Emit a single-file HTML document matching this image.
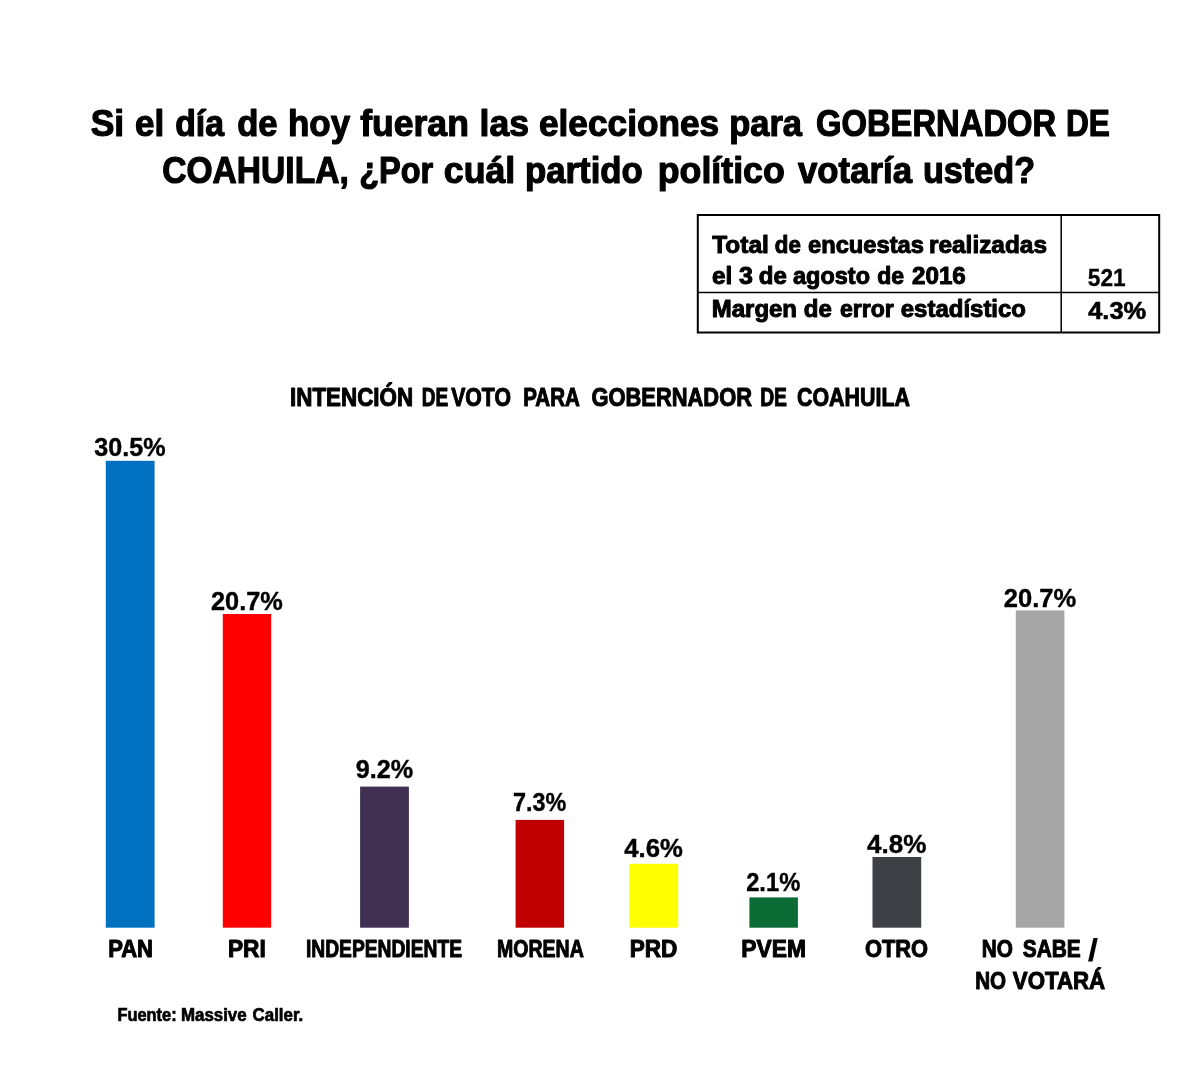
<!DOCTYPE html>
<html lang="es">
<head>
<meta charset="utf-8">
<title>Intención de voto para Gobernador de Coahuila</title>
<style>
html,body{margin:0;padding:0;background:#fff;}
body{width:1200px;height:1071px;overflow:hidden;}
svg{display:block;}
text{font-family:"Liberation Sans",sans-serif;fill:#000;}
</style>
</head>
<body>
<svg width="1200" height="1071" viewBox="0 0 1200 1071">
<rect x="0" y="0" width="1200" height="1071" fill="#ffffff"/>
<g fill="none" stroke="#000">
<rect x="697.8" y="215" width="461.4" height="117.5" stroke-width="2"/>
<line x1="697.8" y1="292.5" x2="1159.2" y2="292.5" stroke-width="1.7"/>
<line x1="1061.2" y1="215" x2="1061.2" y2="332.5" stroke-width="1.5"/>
</g>
<rect x="105.8" y="460.8" width="48.8" height="466.9" fill="#0070C0"/>
<rect x="222.8" y="614" width="48.4" height="313.7" fill="#FF0000"/>
<rect x="360.1" y="786.6" width="48.8" height="141.1" fill="#403152"/>
<rect x="515.6" y="819.9" width="48.5" height="107.8" fill="#C00000"/>
<rect x="629.3" y="863.8" width="48.9" height="63.9" fill="#FFFF00"/>
<rect x="749.4" y="897.4" width="48.5" height="30.3" fill="#0B6B35"/>
<rect x="872.5" y="857" width="48.7" height="70.7" fill="#3F3F46"/>
<rect x="1015.8" y="610.4" width="48.6" height="317.3" fill="#A6A6A6"/>
<text x="90.76" y="136" font-size="37.5" font-weight="700" textLength="33.45" lengthAdjust="spacingAndGlyphs" stroke="#000" stroke-width="1.2" stroke-linejoin="round">Si</text>
<text x="135.04" y="136" font-size="37.5" font-weight="700" textLength="29.18" lengthAdjust="spacingAndGlyphs" stroke="#000" stroke-width="1.2" stroke-linejoin="round">el</text>
<text x="175.20" y="136" font-size="37.5" font-weight="700" textLength="48.81" lengthAdjust="spacingAndGlyphs" stroke="#000" stroke-width="1.2" stroke-linejoin="round">día</text>
<text x="237.16" y="136" font-size="37.5" font-weight="700" textLength="40.49" lengthAdjust="spacingAndGlyphs" stroke="#000" stroke-width="1.2" stroke-linejoin="round">de</text>
<text x="287.95" y="136" font-size="37.5" font-weight="700" textLength="62.24" lengthAdjust="spacingAndGlyphs" stroke="#000" stroke-width="1.2" stroke-linejoin="round">hoy</text>
<text x="360.19" y="136" font-size="37.5" font-weight="700" textLength="108.66" lengthAdjust="spacingAndGlyphs" stroke="#000" stroke-width="1.2" stroke-linejoin="round">fueran</text>
<text x="479.62" y="136" font-size="37.5" font-weight="700" textLength="49.43" lengthAdjust="spacingAndGlyphs" stroke="#000" stroke-width="1.2" stroke-linejoin="round">las</text>
<text x="538.99" y="136" font-size="37.5" font-weight="700" textLength="180.23" lengthAdjust="spacingAndGlyphs" stroke="#000" stroke-width="1.2" stroke-linejoin="round">elecciones</text>
<text x="729.18" y="136" font-size="37.5" font-weight="700" textLength="72.82" lengthAdjust="spacingAndGlyphs" stroke="#000" stroke-width="1.2" stroke-linejoin="round">para</text>
<text x="815.99" y="136" font-size="37.5" font-weight="700" textLength="240.21" lengthAdjust="spacingAndGlyphs" stroke="#000" stroke-width="1.2" stroke-linejoin="round">GOBERNADOR</text>
<text x="1065.91" y="136" font-size="37.5" font-weight="700" textLength="43.90" lengthAdjust="spacingAndGlyphs" stroke="#000" stroke-width="1.2" stroke-linejoin="round">DE</text>
<text x="162.18" y="183.3" font-size="37.5" font-weight="700" textLength="186.65" lengthAdjust="spacingAndGlyphs" stroke="#000" stroke-width="1.2" stroke-linejoin="round">COAHUILA,</text>
<text x="359.17" y="183.3" font-size="37.5" font-weight="700" textLength="74.04" lengthAdjust="spacingAndGlyphs" stroke="#000" stroke-width="1.2" stroke-linejoin="round">¿Por</text>
<text x="443.77" y="183.3" font-size="37.5" font-weight="700" textLength="71.52" lengthAdjust="spacingAndGlyphs" stroke="#000" stroke-width="1.2" stroke-linejoin="round">cuál</text>
<text x="524.94" y="183.3" font-size="37.5" font-weight="700" textLength="117.88" lengthAdjust="spacingAndGlyphs" stroke="#000" stroke-width="1.2" stroke-linejoin="round">partido</text>
<text x="657.77" y="183.3" font-size="37.5" font-weight="700" textLength="127.06" lengthAdjust="spacingAndGlyphs" stroke="#000" stroke-width="1.2" stroke-linejoin="round">político</text>
<text x="798.00" y="183.3" font-size="37.5" font-weight="700" textLength="114.01" lengthAdjust="spacingAndGlyphs" stroke="#000" stroke-width="1.2" stroke-linejoin="round">votaría</text>
<text x="922.92" y="183.3" font-size="37.5" font-weight="700" textLength="112.16" lengthAdjust="spacingAndGlyphs" stroke="#000" stroke-width="1.2" stroke-linejoin="round">usted?</text>
<text x="712.20" y="252.5" font-size="24.2" font-weight="700" textLength="56.64" lengthAdjust="spacingAndGlyphs" stroke="#000" stroke-width="1.0" stroke-linejoin="round">Total</text>
<text x="774.78" y="252.5" font-size="24.2" font-weight="700" textLength="26.02" lengthAdjust="spacingAndGlyphs" stroke="#000" stroke-width="1.0" stroke-linejoin="round">de</text>
<text x="807.99" y="252.5" font-size="24.2" font-weight="700" textLength="116.02" lengthAdjust="spacingAndGlyphs" stroke="#000" stroke-width="1.0" stroke-linejoin="round">encuestas</text>
<text x="928.96" y="252.5" font-size="24.2" font-weight="700" textLength="118.06" lengthAdjust="spacingAndGlyphs" stroke="#000" stroke-width="1.0" stroke-linejoin="round">realizadas</text>
<text x="711.91" y="284.3" font-size="24.2" font-weight="700" textLength="20.31" lengthAdjust="spacingAndGlyphs" stroke="#000" stroke-width="1.0" stroke-linejoin="round">el</text>
<text x="738.94" y="284.3" font-size="24.2" font-weight="700" textLength="13.90" lengthAdjust="spacingAndGlyphs" stroke="#000" stroke-width="1.0" stroke-linejoin="round">3</text>
<text x="758.79" y="284.3" font-size="24.2" font-weight="700" textLength="28.04" lengthAdjust="spacingAndGlyphs" stroke="#000" stroke-width="1.0" stroke-linejoin="round">de</text>
<text x="792.99" y="284.3" font-size="24.2" font-weight="700" textLength="77.01" lengthAdjust="spacingAndGlyphs" stroke="#000" stroke-width="1.0" stroke-linejoin="round">agosto</text>
<text x="877.18" y="284.3" font-size="24.2" font-weight="700" textLength="26.85" lengthAdjust="spacingAndGlyphs" stroke="#000" stroke-width="1.0" stroke-linejoin="round">de</text>
<text x="911.99" y="284.3" font-size="24.2" font-weight="700" textLength="53.82" lengthAdjust="spacingAndGlyphs" stroke="#000" stroke-width="1.0" stroke-linejoin="round">2016</text>
<text x="711.77" y="316.5" font-size="24.2" font-weight="700" textLength="85.25" lengthAdjust="spacingAndGlyphs" stroke="#000" stroke-width="1.0" stroke-linejoin="round">Margen</text>
<text x="803.79" y="316.5" font-size="24.2" font-weight="700" textLength="28.04" lengthAdjust="spacingAndGlyphs" stroke="#000" stroke-width="1.0" stroke-linejoin="round">de</text>
<text x="840.00" y="316.5" font-size="24.2" font-weight="700" textLength="53.81" lengthAdjust="spacingAndGlyphs" stroke="#000" stroke-width="1.0" stroke-linejoin="round">error</text>
<text x="900.79" y="316.5" font-size="24.2" font-weight="700" textLength="125.22" lengthAdjust="spacingAndGlyphs" stroke="#000" stroke-width="1.0" stroke-linejoin="round">estadístico</text>
<text x="1087.79" y="286.2" font-size="24.2" font-weight="700" textLength="37.83" lengthAdjust="spacingAndGlyphs" stroke="#000" stroke-width="0.3" stroke-linejoin="round">521</text>
<text x="1088.20" y="318.6" font-size="24.2" font-weight="700" textLength="58.01" lengthAdjust="spacingAndGlyphs" stroke="#000" stroke-width="0.6" stroke-linejoin="round">4.3%</text>
<text x="289.98" y="405.5" font-size="25.2" font-weight="700" textLength="123.24" lengthAdjust="spacingAndGlyphs" stroke="#000" stroke-width="1.0" stroke-linejoin="round">INTENCIÓN</text>
<text x="421.78" y="405.5" font-size="25.2" font-weight="700" textLength="26.44" lengthAdjust="spacingAndGlyphs" stroke="#000" stroke-width="1.0" stroke-linejoin="round">DE</text>
<text x="451.20" y="405.5" font-size="25.2" font-weight="700" textLength="59.80" lengthAdjust="spacingAndGlyphs" stroke="#000" stroke-width="1.0" stroke-linejoin="round">VOTO</text>
<text x="523.17" y="405.5" font-size="25.2" font-weight="700" textLength="56.64" lengthAdjust="spacingAndGlyphs" stroke="#000" stroke-width="1.0" stroke-linejoin="round">PARA</text>
<text x="591.40" y="405.5" font-size="25.2" font-weight="700" textLength="160.60" lengthAdjust="spacingAndGlyphs" stroke="#000" stroke-width="1.0" stroke-linejoin="round">GOBERNADOR</text>
<text x="760.15" y="405.5" font-size="25.2" font-weight="700" textLength="26.85" lengthAdjust="spacingAndGlyphs" stroke="#000" stroke-width="1.0" stroke-linejoin="round">DE</text>
<text x="797.00" y="405.5" font-size="25.2" font-weight="700" textLength="113.00" lengthAdjust="spacingAndGlyphs" stroke="#000" stroke-width="1.0" stroke-linejoin="round">COAHUILA</text>
<text x="94.39" y="455.5" font-size="25" font-weight="700" textLength="71.22" lengthAdjust="spacingAndGlyphs" stroke="#000" stroke-width="0.4" stroke-linejoin="round">30.5%</text>
<text x="210.98" y="610.2" font-size="25" font-weight="700" textLength="71.83" lengthAdjust="spacingAndGlyphs" stroke="#000" stroke-width="0.4" stroke-linejoin="round">20.7%</text>
<text x="355.79" y="778" font-size="25" font-weight="700" textLength="57.43" lengthAdjust="spacingAndGlyphs" stroke="#000" stroke-width="0.4" stroke-linejoin="round">9.2%</text>
<text x="512.99" y="810.6" font-size="25" font-weight="700" textLength="53.23" lengthAdjust="spacingAndGlyphs" stroke="#000" stroke-width="0.4" stroke-linejoin="round">7.3%</text>
<text x="624.20" y="856.7" font-size="25" font-weight="700" textLength="58.61" lengthAdjust="spacingAndGlyphs" stroke="#000" stroke-width="0.4" stroke-linejoin="round">4.6%</text>
<text x="746.20" y="891" font-size="25" font-weight="700" textLength="54.02" lengthAdjust="spacingAndGlyphs" stroke="#000" stroke-width="0.4" stroke-linejoin="round">2.1%</text>
<text x="866.98" y="853.2" font-size="25" font-weight="700" textLength="59.44" lengthAdjust="spacingAndGlyphs" stroke="#000" stroke-width="0.4" stroke-linejoin="round">4.8%</text>
<text x="1003.78" y="607" font-size="25" font-weight="700" textLength="72.43" lengthAdjust="spacingAndGlyphs" stroke="#000" stroke-width="0.4" stroke-linejoin="round">20.7%</text>
<text x="108.14" y="956.7" font-size="24.5" font-weight="700" textLength="44.90" lengthAdjust="spacingAndGlyphs" stroke="#000" stroke-width="1.0" stroke-linejoin="round">PAN</text>
<text x="227.95" y="956.7" font-size="24.5" font-weight="700" textLength="37.92" lengthAdjust="spacingAndGlyphs" stroke="#000" stroke-width="1.0" stroke-linejoin="round">PRI</text>
<text x="305.99" y="956.7" font-size="24.5" font-weight="700" textLength="156.01" lengthAdjust="spacingAndGlyphs" stroke="#000" stroke-width="1.0" stroke-linejoin="round">INDEPENDIENTE</text>
<text x="496.99" y="956.7" font-size="24.5" font-weight="700" textLength="86.81" lengthAdjust="spacingAndGlyphs" stroke="#000" stroke-width="1.0" stroke-linejoin="round">MORENA</text>
<text x="629.74" y="956.7" font-size="24.5" font-weight="700" textLength="47.70" lengthAdjust="spacingAndGlyphs" stroke="#000" stroke-width="1.0" stroke-linejoin="round">PRD</text>
<text x="741.37" y="956.7" font-size="24.5" font-weight="700" textLength="64.66" lengthAdjust="spacingAndGlyphs" stroke="#000" stroke-width="1.0" stroke-linejoin="round">PVEM</text>
<text x="865.00" y="956.7" font-size="24.5" font-weight="700" textLength="63.01" lengthAdjust="spacingAndGlyphs" stroke="#000" stroke-width="1.0" stroke-linejoin="round">OTRO</text>
<text x="981.73" y="956.7" font-size="24.5" font-weight="700" textLength="31.11" lengthAdjust="spacingAndGlyphs" stroke="#000" stroke-width="1.0" stroke-linejoin="round">NO</text>
<text x="1022.79" y="956.7" font-size="24.5" font-weight="700" textLength="58.02" lengthAdjust="spacingAndGlyphs" stroke="#000" stroke-width="1.0" stroke-linejoin="round">SABE</text>
<text x="975.15" y="989.2" font-size="24.5" font-weight="700" textLength="30.91" lengthAdjust="spacingAndGlyphs" stroke="#000" stroke-width="1.0" stroke-linejoin="round">NO</text>
<text x="1012.80" y="989.2" font-size="24.5" font-weight="700" textLength="92.40" lengthAdjust="spacingAndGlyphs" stroke="#000" stroke-width="1.0" stroke-linejoin="round">VOTARÁ</text>
<text x="1087.84" y="960.8" font-size="31" font-weight="700" textLength="10.39" lengthAdjust="spacingAndGlyphs">/</text>
<text x="117.38" y="1020.5" font-size="18.3" font-weight="700" textLength="59.25" lengthAdjust="spacingAndGlyphs" stroke="#000" stroke-width="0.7" stroke-linejoin="round">Fuente:</text>
<text x="180.97" y="1020.5" font-size="18.3" font-weight="700" textLength="65.64" lengthAdjust="spacingAndGlyphs" stroke="#000" stroke-width="0.7" stroke-linejoin="round">Massive</text>
<text x="252.60" y="1020.5" font-size="18.3" font-weight="700" textLength="50.61" lengthAdjust="spacingAndGlyphs" stroke="#000" stroke-width="0.7" stroke-linejoin="round">Caller.</text>
</svg>
</body>
</html>
